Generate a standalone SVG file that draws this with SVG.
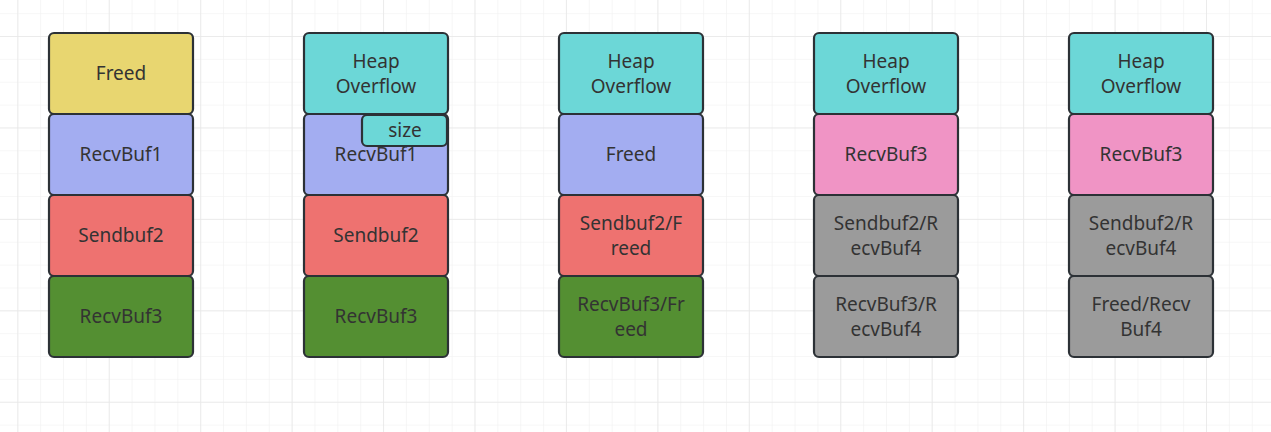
<svg xmlns="http://www.w3.org/2000/svg" width="1271" height="432" viewBox="0 0 1271 432">
<defs>
<pattern id="minor" width="22.86" height="22.86" patternUnits="userSpaceOnUse" x="17.3" y="13.14">
<path d="M0 0H22.86M0 0V22.86" fill="none" stroke="#f0f0f0" stroke-width="1.2"/>
</pattern>
<pattern id="major" width="91.44" height="91.44" patternUnits="userSpaceOnUse" x="17.3" y="36">
<path d="M0 0H91.44M0 0V91.44" fill="none" stroke="#e8e8e8" stroke-width="1.5"/>
</pattern>
</defs>
<style>
.b{stroke:#2c3136;stroke-width:2.2}
.t{font-family:"Noto Sans","Open Sans",sans-serif;font-size:19px;fill:#333333;text-anchor:middle}
.y{fill:#e8d670}.p{fill:#a3adf1}.r{fill:#ee7270}.g{fill:#548f32}.c{fill:#6cd7d7}.k{fill:#f094c5}.gr{fill:#9b9b9b}
</style>
<rect width="1271" height="432" fill="#ffffff"/>
<rect width="1271" height="432" fill="url(#minor)"/>
<rect width="1271" height="432" fill="url(#major)"/>

<g id="col1">
<g id="c1-freed"><rect class="b y" x="49" y="33" width="144" height="81" rx="5"/><text class="t" x="121" y="80">Freed</text></g>
<g id="c1-recvbuf1"><rect class="b p" x="49" y="114" width="144" height="81" rx="5"/><text class="t" x="121" y="161">RecvBuf1</text></g>
<g id="c1-sendbuf2"><rect class="b r" x="49" y="195" width="144" height="81" rx="5"/><text class="t" x="121" y="242">Sendbuf2</text></g>
<g id="c1-recvbuf3"><rect class="b g" x="49" y="276" width="144" height="81" rx="5"/><text class="t" x="121" y="323">RecvBuf3</text></g>
</g>

<g id="col2">
<g id="c2-heap"><rect class="b c" x="304" y="33" width="144" height="81" rx="5"/><text class="t" x="376" y="68">Heap</text><text class="t" x="376" y="93">Overflow</text></g>
<g id="c2-recvbuf1"><rect class="b p" x="304" y="114" width="144" height="81" rx="5"/><text class="t" x="376" y="161">RecvBuf1</text></g>
<g id="c2-sendbuf2"><rect class="b r" x="304" y="195" width="144" height="81" rx="5"/><text class="t" x="376" y="242">Sendbuf2</text></g>
<g id="c2-recvbuf3"><rect class="b g" x="304" y="276" width="144" height="81" rx="5"/><text class="t" x="376" y="323">RecvBuf3</text></g>
<g id="c2-size"><rect class="b c" x="362" y="115" width="85" height="31" rx="5"/><text class="t" x="405" y="137">size</text></g>
</g>

<g id="col3">
<g id="c3-heap"><rect class="b c" x="559" y="33" width="144" height="81" rx="5"/><text class="t" x="631" y="68">Heap</text><text class="t" x="631" y="93">Overflow</text></g>
<g id="c3-freed"><rect class="b p" x="559" y="114" width="144" height="81" rx="5"/><text class="t" x="631" y="161">Freed</text></g>
<g id="c3-sendbuf2"><rect class="b r" x="559" y="195" width="144" height="81" rx="5"/><text class="t" x="631" y="230">Sendbuf2/F</text><text class="t" x="631" y="255">reed</text></g>
<g id="c3-recvbuf3"><rect class="b g" x="559" y="276" width="144" height="81" rx="5"/><text class="t" x="631" y="311">RecvBuf3/Fr</text><text class="t" x="631" y="336">eed</text></g>
</g>

<g id="col4">
<g id="c4-heap"><rect class="b c" x="814" y="33" width="144" height="81" rx="5"/><text class="t" x="886" y="68">Heap</text><text class="t" x="886" y="93">Overflow</text></g>
<g id="c4-recvbuf3"><rect class="b k" x="814" y="114" width="144" height="81" rx="5"/><text class="t" x="886" y="161">RecvBuf3</text></g>
<g id="c4-sendbuf2"><rect class="b gr" x="814" y="195" width="144" height="81" rx="5"/><text class="t" x="886" y="230">Sendbuf2/R</text><text class="t" x="886" y="255">ecvBuf4</text></g>
<g id="c4-recvbuf3b"><rect class="b gr" x="814" y="276" width="144" height="81" rx="5"/><text class="t" x="886" y="311">RecvBuf3/R</text><text class="t" x="886" y="336">ecvBuf4</text></g>
</g>

<g id="col5">
<g id="c5-heap"><rect class="b c" x="1069" y="33" width="144" height="81" rx="5"/><text class="t" x="1141" y="68">Heap</text><text class="t" x="1141" y="93">Overflow</text></g>
<g id="c5-recvbuf3"><rect class="b k" x="1069" y="114" width="144" height="81" rx="5"/><text class="t" x="1141" y="161">RecvBuf3</text></g>
<g id="c5-sendbuf2"><rect class="b gr" x="1069" y="195" width="144" height="81" rx="5"/><text class="t" x="1141" y="230">Sendbuf2/R</text><text class="t" x="1141" y="255">ecvBuf4</text></g>
<g id="c5-freed"><rect class="b gr" x="1069" y="276" width="144" height="81" rx="5"/><text class="t" x="1141" y="311">Freed/Recv</text><text class="t" x="1141" y="336">Buf4</text></g>
</g>

<g id="connectors"/>
</svg>
